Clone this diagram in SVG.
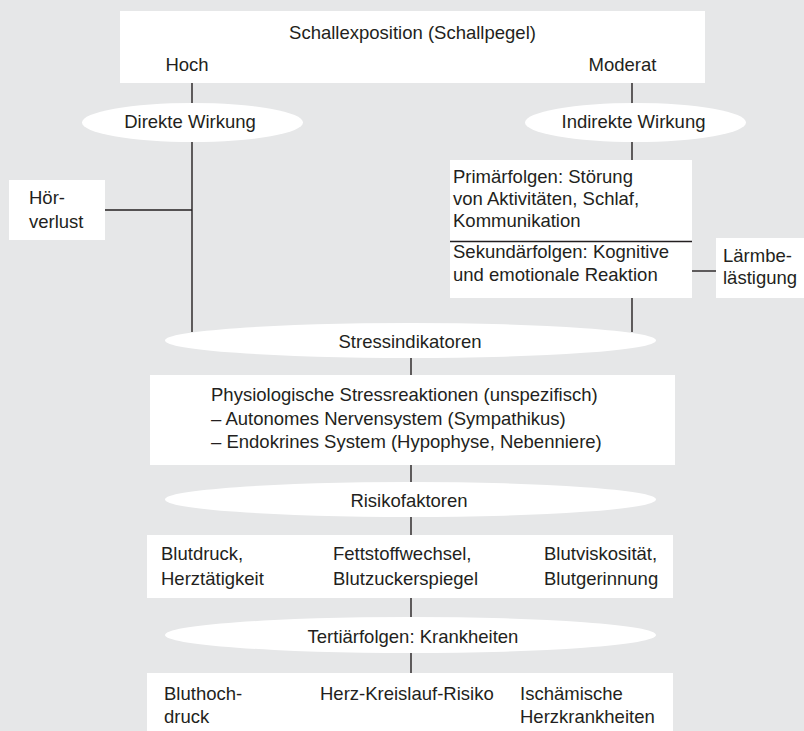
<svg xmlns="http://www.w3.org/2000/svg" width="804" height="731" viewBox="0 0 804 731">
<style>
  text { font-family: "Liberation Sans", Arial, sans-serif; font-size: 18.5px; fill: #231f20; }
  .c { text-anchor: middle; }
  .box { fill: #ffffff; stroke: none; }
  .ell { fill: #ffffff; stroke: none; }
  .ln { stroke: #231f20; stroke-width: 1.4; fill: none; }
</style>
<rect x="0" y="0" width="804" height="731" fill="#e6e7e8"/>
<g id="connectors">
  <line class="ln" x1="192" y1="83" x2="192" y2="332"/>
  <line class="ln" x1="105" y1="210" x2="192" y2="210"/>
  <line class="ln" x1="632" y1="83" x2="632" y2="160"/>
  <line class="ln" x1="632" y1="298" x2="632" y2="332"/>
  <line class="ln" x1="692" y1="271" x2="716" y2="271"/>
  <line class="ln" x1="411" y1="358" x2="411" y2="375"/>
  <line class="ln" x1="411" y1="465" x2="411" y2="482"/>
  <line class="ln" x1="411" y1="517" x2="411" y2="535"/>
  <line class="ln" x1="411" y1="598" x2="411" y2="617"/>
  <line class="ln" x1="411" y1="653" x2="411" y2="673"/>
</g>
<g id="schallexposition">
  <rect class="box" x="120" y="11" width="585" height="72"/>
  <text class="c" x="412.5" y="39">Schallexposition (Schallpegel)</text>
  <text class="c" x="187" y="71">Hoch</text>
  <text class="c" x="622.5" y="71">Moderat</text>
</g>
<g id="direkte-wirkung">
  <ellipse class="ell" cx="192.5" cy="122.5" rx="110.5" ry="19.5"/>
  <text class="c" x="190" y="128">Direkte Wirkung</text>
</g>
<g id="indirekte-wirkung">
  <ellipse class="ell" cx="635.5" cy="122.5" rx="110.5" ry="19.5"/>
  <text class="c" x="633.5" y="128">Indirekte Wirkung</text>
</g>
<g id="hoerverlust">
  <rect class="box" x="9" y="180" width="96" height="60"/>
  <text x="29" y="204">Hör-</text>
  <text x="29" y="228">verlust</text>
</g>
<g id="folgen">
  <rect class="box" x="450" y="160" width="242" height="138"/>
  <line class="ln" x1="450" y1="241.5" x2="692" y2="241.5"/>
  <text x="453" y="183">Primärfolgen: Störung</text>
  <text x="453" y="205">von Aktivitäten, Schlaf,</text>
  <text x="453" y="227">Kommunikation</text>
  <text x="453" y="258">Sekundärfolgen: Kognitive</text>
  <text x="453" y="281">und emotionale Reaktion</text>
</g>
<g id="laermbelaestigung">
  <rect class="box" x="716" y="238" width="88" height="60"/>
  <text x="723" y="262">Lärmbe-</text>
  <text x="723" y="284">lästigung</text>
</g>
<g id="stressindikatoren">
  <ellipse class="ell" cx="410.5" cy="340.5" rx="245.5" ry="17.5"/>
  <text class="c" x="410" y="348">Stressindikatoren</text>
</g>
<g id="physiologische-stressreaktionen">
  <rect class="box" x="150" y="375" width="525" height="90"/>
  <text x="211" y="401">Physiologische Stressreaktionen (unspezifisch)</text>
  <text x="211" y="425">– Autonomes Nervensystem (Sympathikus)</text>
  <text x="211" y="448">– Endokrines System (Hypophyse, Nebenniere)</text>
</g>
<g id="risikofaktoren">
  <ellipse class="ell" cx="410.5" cy="499.5" rx="245.5" ry="17.5"/>
  <text class="c" x="409" y="507">Risikofaktoren</text>
</g>
<g id="risikofaktoren-liste">
  <rect class="box" x="147" y="535" width="526" height="63"/>
  <text x="161" y="560">Blutdruck,</text>
  <text x="161" y="585">Herztätigkeit</text>
  <text x="333" y="560">Fettstoffwechsel,</text>
  <text x="333" y="585">Blutzuckerspiegel</text>
  <text x="544" y="560">Blutviskosität,</text>
  <text x="544" y="585">Blutgerinnung</text>
</g>
<g id="tertiaerfolgen">
  <ellipse class="ell" cx="410.5" cy="635" rx="245.5" ry="18"/>
  <text class="c" x="413" y="643">Tertiärfolgen: Krankheiten</text>
</g>
<g id="krankheiten">
  <rect class="box" x="147" y="673" width="526" height="58"/>
  <text x="164" y="700">Bluthoch-</text>
  <text x="164" y="723">druck</text>
  <text x="320" y="700">Herz-Kreislauf-Risiko</text>
  <text x="520" y="700">Ischämische</text>
  <text x="520" y="723">Herzkrankheiten</text>
</g>
</svg>
